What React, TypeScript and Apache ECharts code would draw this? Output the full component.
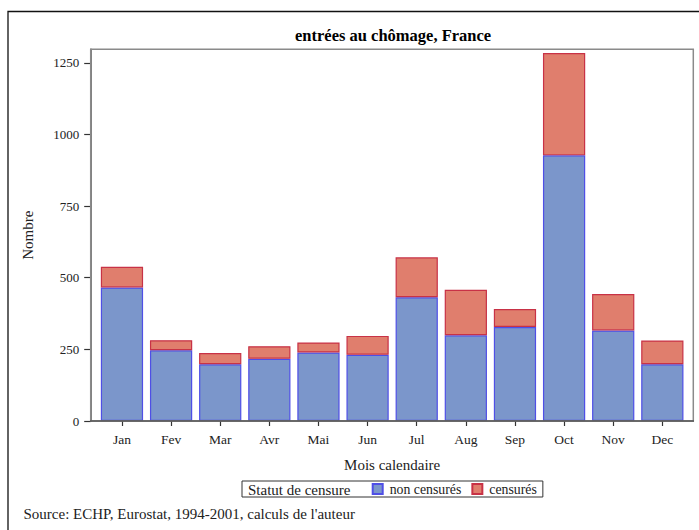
import React, { useEffect, useRef } from "react";
import * as echarts from "echarts";

const months = ["Jan", "Fev", "Mar", "Avr", "Mai", "Jun", "Jul", "Aug", "Sep", "Oct", "Nov", "Dec"];
const nonCensures = [466, 247, 198, 217, 239, 231, 432, 299, 328, 927, 316, 198];
const censures = [72, 35, 39, 44, 35, 66, 139, 159, 63, 357, 127, 83];
const yTicks = [0, 250, 500, 750, 1000, 1250];

const SERIF = "'Liberation Serif', 'Times New Roman', serif";

export default function App() {
  const ref = useRef<HTMLDivElement>(null);
  useEffect(() => {
    if (!ref.current) return;
    const chart = echarts.init(ref.current, undefined, { renderer: "svg" });
    chart.setOption({
      animation: false,
      backgroundColor: "#fff",
      textStyle: { fontFamily: SERIF },
      title: {
        text: "entrées au chômage, France",
        left: 295,
        top: 27,
        padding: 0,
        textStyle: { fontFamily: SERIF, fontSize: 16.5, fontWeight: "bold", color: "#000" },
      },
      grid: { left: 97.4, right: 12.1, top: 49.3, bottom: 109 },
      xAxis: {
        type: "category",
        data: months,
        axisLine: { show: false },
        axisTick: { show: true, alignWithLabel: true, length: 5, lineStyle: { color: "#333", width: 1.2 } },
        axisLabel: { fontFamily: SERIF, fontSize: 13.5, color: "#222", margin: 11 },
        name: "Mois calendaire",
        nameLocation: "middle",
        nameGap: 36,
        nameTextStyle: { fontFamily: SERIF, fontSize: 15, color: "#222" },
      },
      yAxis: {
        type: "value",
        min: 0,
        max: 1297,
        interval: 250,
        offset: 6.7,
        splitLine: { show: false },
        axisLine: { show: true, lineStyle: { color: "#555", width: 1.5 } },
        axisTick: { show: true, length: 6.5, customValues: yTicks, lineStyle: { color: "#333", width: 1.2 } },
        axisLabel: {
          fontFamily: SERIF,
          fontSize: 13,
          color: "#222",
          margin: 11.5,
          customValues: yTicks,
          formatter: (v: number) => String(v),
        },
        name: "Nombre",
        nameLocation: "middle",
        nameRotate: 90,
        nameGap: 55,
        nameTextStyle: { fontFamily: SERIF, fontSize: 15, color: "#222" },
      },
      legend: {
        left: 242,
        top: 481,
        orient: "horizontal",
        padding: [1, 6, 1, 129.7],
        borderColor: "#333",
        borderWidth: 1,
        itemWidth: 10,
        itemHeight: 10,
        itemGap: 10,
        icon: "rect",
        textStyle: { fontFamily: SERIF, fontSize: 13.8, color: "#222", padding: [0, 0, 0, 2] },
        data: ["non censurés", "censurés"],
      },
      series: [
        {
          name: "non censurés",
          type: "bar",
          stack: "total",
          data: nonCensures,
          barCategoryGap: "14%",
          itemStyle: { color: "#7B96CB", borderColor: "#4F4FE6", borderWidth: 1.2 },
        },
        {
          name: "censurés",
          type: "bar",
          stack: "total",
          data: censures,
          barCategoryGap: "14%",
          itemStyle: { color: "#E07E6D", borderColor: "#C83246", borderWidth: 1.2 },
        },
      ],
      graphic: [
        {
          type: "rect",
          z: 100,
          silent: true,
          shape: { x: 8, y: 11.5, width: 720, height: 560 },
          style: { fill: "none", stroke: "#111", lineWidth: 1.3 },
        },
        {
          type: "rect",
          z: 100,
          silent: true,
          shape: { x: 90.7, y: 49.3, width: 602.6, height: 371.7 },
          style: { fill: "none", stroke: "#8a8a8a", lineWidth: 1.5 },
        },
        {
          type: "line",
          z: 101,
          silent: true,
          shape: { x1: 90, y1: 421, x2: 694, y2: 421 },
          style: { stroke: "#555", lineWidth: 1.5 },
        },
        {
          type: "text",
          z: 101,
          silent: true,
          x: 248,
          y: 489.7,
          style: {
            text: "Statut de censure",
            fontFamily: SERIF,
            fontSize: 15,
            fill: "#222",
            verticalAlign: "middle",
            align: "left",
          },
        },
        {
          type: "text",
          z: 101,
          silent: true,
          x: 23.5,
          y: 513.5,
          style: {
            text: "Source: ECHP, Eurostat, 1994-2001, calculs de l'auteur",
            fontFamily: SERIF,
            fontSize: 15,
            fill: "#222",
            verticalAlign: "middle",
            align: "left",
          },
        },
      ],
    });
    return () => chart.dispose();
  }, []);
  return (
    <div
      ref={ref}
      style={{ position: "fixed", left: 0, top: 0, width: 699, height: 530, background: "#fff" }}
    />
  );
}
